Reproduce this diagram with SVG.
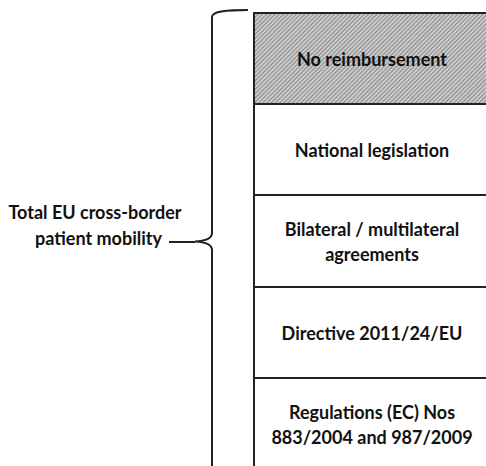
<svg xmlns="http://www.w3.org/2000/svg" width="486" height="466" viewBox="0 0 486 466">
  <style>
    .lbl { font-family: Lato, "Liberation Sans", sans-serif; font-weight: bold; font-size: 18px; fill: #111; text-anchor: middle; }
    .box { fill: #fff; stroke: #222; stroke-width: 2; }
    .line { fill: none; stroke: #222; stroke-width: 2; }
  </style>
  <defs>
    <pattern id="hatch" width="3" height="3" patternUnits="userSpaceOnUse" patternTransform="rotate(45)">
      <rect width="3" height="3" fill="#d2d2d2"/>
      <rect width="1.2" height="3" fill="#8a8a8a"/>
    </pattern>
  </defs>
  <rect width="486" height="466" fill="#fff"/>

  <g id="node-no-reimbursement">
    <rect class="box" x="254" y="13" width="240" height="91" fill="url(#hatch)" style="fill:url(#hatch)"/>
    <text class="lbl" x="372" y="65.5">No reimbursement</text>
  </g>
  <g id="node-national-legislation">
    <rect class="box" x="254" y="104" width="240" height="91"/>
    <text class="lbl" x="372" y="157">National legislation</text>
  </g>
  <g id="node-bilateral">
    <rect class="box" x="254" y="195" width="240" height="92"/>
    <text class="lbl" x="372" y="235.5">Bilateral / multilateral</text>
    <text class="lbl" x="372" y="260.5">agreements</text>
  </g>
  <g id="node-directive">
    <rect class="box" x="254" y="287" width="240" height="91"/>
    <text class="lbl" x="372" y="340">Directive 2011/24/EU</text>
  </g>
  <g id="node-regulations">
    <rect class="box" x="254" y="378" width="240" height="100"/>
    <text class="lbl" x="372" y="418.5">Regulations (EC) Nos</text>
    <text class="lbl" x="372" y="443.5">883/2004 and 987/2009</text>
  </g>

  <g id="node-total">
    <text class="lbl" x="95" y="219">Total EU cross-border</text>
    <text class="lbl" x="98.5" y="245">patient mobility</text>
  </g>

  <g id="connectors">
    <path class="line" d="M248,10 C228,10 212,11 212,17 L212,233 C212,238 205,241 195,241.5 C205,242 212,245 212,250 L212,470"/>
    <path class="line" d="M169,242 L195,242"/>
  </g>
</svg>
